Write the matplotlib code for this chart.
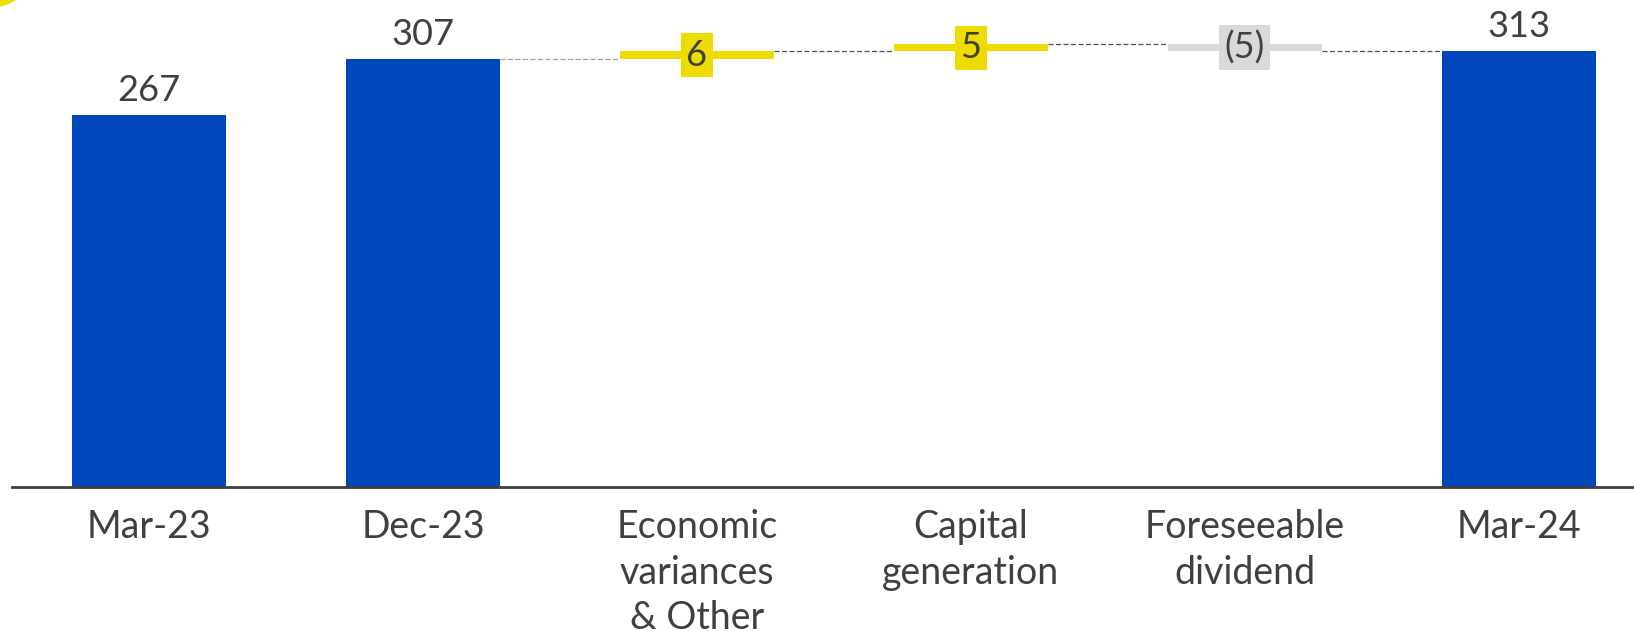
import matplotlib.pyplot as plt
from matplotlib.patches import Circle

# waterfall data
categories = ['Mar-23', 'Dec-23', 'Economic\nvariances\n& Other',
              'Capital\ngeneration', 'Foreseeable\ndividend', 'Mar-24']
values = [267, 307, 6, 5, -5, 313]
kinds = ['total', 'total', 'delta', 'delta', 'delta', 'total']
labels = ['267', '307', '6', '5', '(5)', '313']

blue = '#0047BB'
yellow = '#EEDC00'
grey = '#D9D9D9'
text_col = '#404040'

plt.rcParams['font.family'] = ['Lato', 'DejaVu Sans']

fig = plt.figure(figsize=(16.34, 6.31), dpi=100)
ax = fig.add_axes([12.5 / 1634, 144 / 631, 1 - 12.5 / 1634, 487 / 631])

width = 0.56
running = 0
tops = []
for i, (v, k) in enumerate(zip(values, kinds)):
    if k == 'total':
        ax.bar(i, v, width=width, color=blue, zorder=2)
        running = v
        ax.annotate(labels[i], (i, v), xytext=(0, 6), textcoords='offset points',
                    ha='center', va='bottom', fontsize=26, color=text_col)
    else:
        base = running if v > 0 else running + v
        col = yellow if v > 0 else grey
        ax.bar(i, abs(v), bottom=base, width=width, color=col, zorder=2)
        ax.text(i, base + abs(v) / 2, labels[i], ha='center', va='center',
                fontsize=26, color=text_col, zorder=3,
                bbox=dict(boxstyle='square,pad=0.15', fc=col, ec='none'))
        running += v
    tops.append(running)

# connectors (none between the two opening totals)
for i in range(1, len(values) - 1):
    lc = '#A0A0A0' if i == 1 else '#505050'
    ax.plot([i + width / 2, i + 1 - width / 2], [tops[i], tops[i]],
            ls=(0, (4, 2)), lw=0.9, color=lc, zorder=1)

ax.set_xlim(-0.498, 5.42)
ax.set_ylim(0, 349.7)
ax.set_yticks([])
ax.set_xticks(range(len(categories)))
ax.set_xticklabels(categories, fontsize=27, color=text_col, linespacing=1.33)
ax.tick_params(axis='x', length=0, pad=16)
for s in ['top', 'right', 'left']:
    ax.spines[s].set_visible(False)
ax.spines['bottom'].set_color(text_col)
ax.spines['bottom'].set_linewidth(2)

# yellow corner decoration
fig.patches.append(Circle((-10, 631 + 40), 47, transform=None, color=yellow,
                          zorder=5))

fig.savefig('out.png', dpi=100)
